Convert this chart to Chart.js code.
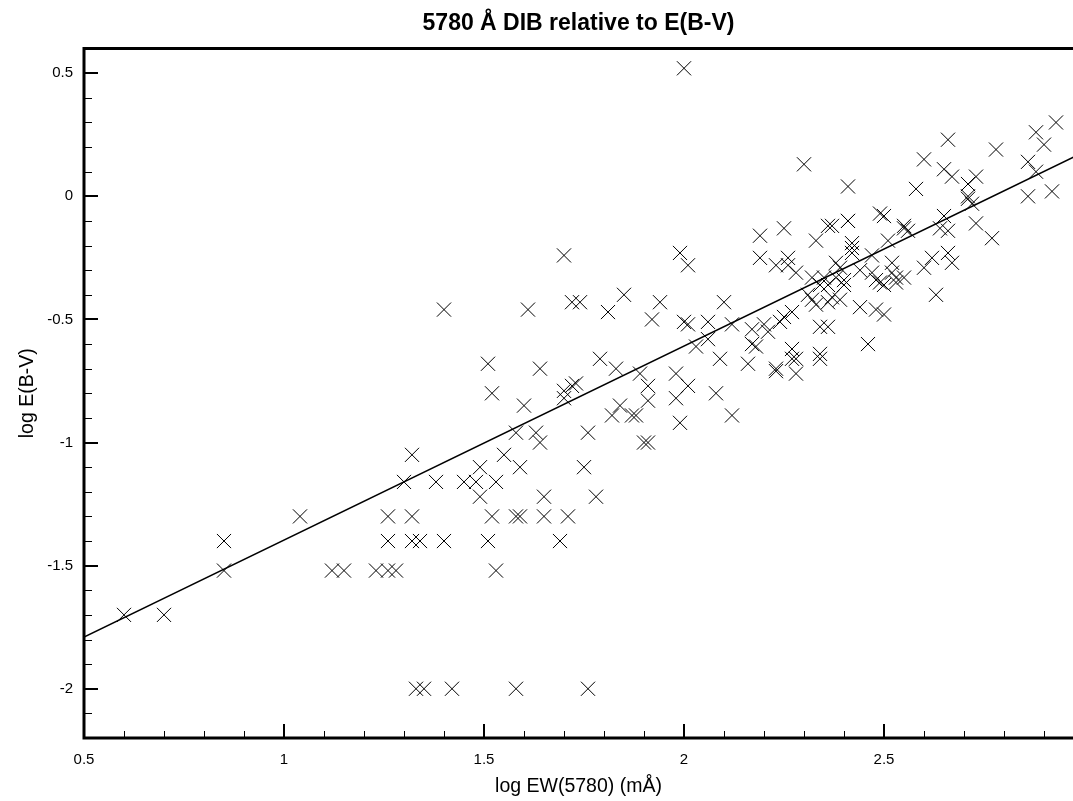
<!DOCTYPE html>
<html>
<head>
<meta charset="utf-8">
<script src="https://cdn.jsdelivr.net/npm/chart.js@4.4.1/dist/chart.umd.min.js"></script>
<style>
  body { margin: 0; background: #fff; }
  canvas { display: block; }
</style>
</head>
<body>
<canvas id="myChart" width="1073" height="801"></canvas>
<script>
// log EW(5780) and log E(B-V) for each star
let logEW = [
  0.60, 0.70, 0.85, 0.85, 1.04, 1.12, 1.15, 1.23, 1.26, 1.28,
  1.26, 1.26, 1.30, 1.32, 1.32, 1.32, 1.34, 1.38, 1.40, 1.40,
  1.45, 1.48, 1.53, 1.49, 1.49, 1.51, 1.52, 1.53, 1.51, 1.52,
  1.55, 1.58, 1.59, 1.58, 1.59, 1.60, 1.61, 1.63, 1.64, 1.64,
  1.65, 1.65, 1.69, 1.71, 1.70, 1.70, 1.70, 1.72, 1.73, 1.72,
  1.74, 1.76, 1.75, 1.78, 1.79, 1.81, 1.83, 1.82, 1.84, 1.85,
  1.87, 1.88, 1.89, 1.91, 1.91, 1.90, 1.91, 1.92, 1.94, 1.98,
  1.98, 1.99, 1.33, 1.35, 1.42, 1.58, 1.76,
  2.00, 1.99, 2.01, 2.00, 2.01, 2.01, 2.03, 2.06, 2.06, 2.08,
  2.09, 2.10, 2.12, 2.12, 2.16, 2.17, 2.17, 2.18, 2.19, 2.19,
  2.20, 2.21, 2.23, 2.23, 2.23, 2.24, 2.25, 2.25, 2.26, 2.26,
  2.27, 2.27, 2.28, 2.27, 2.28, 2.28, 2.30, 2.32, 2.33, 2.34,
  2.36, 2.37, 2.41, 2.41, 2.41, 2.38, 2.39, 2.42, 2.42, 2.42,
  2.44, 2.47, 2.47, 2.48, 2.49, 2.50, 2.49, 2.50, 2.51, 2.52,
  2.52, 2.53, 2.55, 2.53, 2.55, 2.55, 2.56, 2.58, 2.60, 2.60,
  2.62, 2.63, 2.64, 2.65, 2.66, 2.65, 2.66, 2.66, 2.67, 2.67,
  2.71, 2.71, 2.71, 2.72, 2.73, 2.73, 2.77, 2.78, 2.86, 2.86,
  2.88, 2.88, 2.90, 2.92, 2.93,
  2.44, 2.48, 2.50, 2.46, 2.36, 2.34, 2.34,
  2.35, 2.36, 2.38, 2.40, 2.40, 2.34, 2.37, 2.39, 2.36, 2.33,
  2.31, 2.32
];
let logEBV = [
  -1.70, -1.70, -1.40, -1.52, -1.30, -1.52, -1.52, -1.52, -1.52, -1.52,
  -1.30, -1.40, -1.16, -1.05, -1.30, -1.40, -1.40, -1.16, -1.40, -0.46,
  -1.16, -1.16, -1.16, -1.10, -1.22, -1.40, -1.30, -1.52, -0.68, -0.80,
  -1.05, -1.30, -1.30, -0.96, -1.10, -0.85, -0.46, -0.96, -1.00, -0.70,
  -1.22, -1.30, -1.40, -1.30, -0.24, -0.82, -0.79, -0.77, -0.76, -0.43,
  -0.43, -0.96, -1.10, -1.22, -0.66, -0.47, -0.70, -0.89, -0.85, -0.40,
  -0.89, -0.89, -0.72, -0.77, -0.83, -1.00, -1.00, -0.50, -0.43, -0.72,
  -0.82, -0.92, -2.00, -2.00, -2.00, -2.00, -2.00,
  0.52, -0.23, -0.28, -0.51, -0.52, -0.77, -0.61, -0.51, -0.58, -0.80,
  -0.66, -0.43, -0.52, -0.89, -0.68, -0.54, -0.60, -0.61, -0.16, -0.25,
  -0.52, -0.55, -0.28, -0.70, -0.71, -0.51, -0.49, -0.13, -0.25, -0.28,
  -0.47, -0.62, -0.66, -0.66, -0.72, -0.31, 0.13, -0.33, -0.18, -0.66,
  -0.12, -0.12, -0.10, -0.10, 0.04, -0.27, -0.29, -0.19, -0.21, -0.23,
  -0.30, -0.24, -0.31, -0.34, -0.35, -0.36, -0.07, -0.08, -0.18, -0.27,
  -0.31, -0.33, -0.33, -0.35, -0.12, -0.13, -0.14, 0.03, 0.15, -0.29,
  -0.25, -0.40, -0.13, -0.08, -0.14, 0.11, 0.23, -0.23, -0.27, 0.08,
  0.05, 0.00, -0.01, -0.03, 0.08, -0.11, -0.17, 0.19, 0.14, 0.00,
  0.26, 0.10, 0.21, 0.02, 0.30,
  -0.45, -0.46, -0.48, -0.60, -0.53, -0.53, -0.64,
  -0.33, -0.36, -0.33, -0.34, -0.36, -0.36, -0.41, -0.42, -0.43, -0.44,
  -0.40, -0.42
];

// least squares line drawn on the plot
let fitX = [0.5, 3.0];
let fitY = [-1.79, 0.18];

let xTicks = [0.5, 1, 1.5, 2, 2.5];
let yTicks = [-2, -1.5, -1, -0.5, 0, 0.5];

let font = "'Liberation Sans', Arial, Helvetica, sans-serif";

// frame + inward ticks like the original plot
let frameTicks = {
  id: 'frameTicks',
  afterDatasetsDraw(chart) {
    let c = chart.ctx;
    let a = chart.chartArea;
    let xs = chart.scales.x, ys = chart.scales.y;
    c.save();
    c.strokeStyle = '#000';
    c.lineCap = 'butt';

    // minor ticks
    c.lineWidth = 1;
    c.beginPath();
    for (let i = 6; i <= 29; i++) {
      let px = Math.round(xs.getPixelForValue(i / 10)) + 0.5;
      c.moveTo(px, a.bottom);
      c.lineTo(px, a.bottom - 7);
    }
    for (let i = -21; i <= 5; i++) {
      let py = Math.round(ys.getPixelForValue(i / 10)) + 0.5;
      c.moveTo(a.left, py);
      c.lineTo(a.left + 8, py);
    }
    c.stroke();

    // major ticks
    c.lineWidth = 2;
    c.beginPath();
    xTicks.forEach(v => {
      let px = Math.round(xs.getPixelForValue(v));
      c.moveTo(px, a.bottom);
      c.lineTo(px, a.bottom - 14);
    });
    yTicks.forEach(v => {
      let py = Math.round(ys.getPixelForValue(v));
      c.moveTo(a.left, py);
      c.lineTo(a.left + 14, py);
    });
    c.stroke();

    // axis lines
    c.lineWidth = 3;
    c.beginPath();
    c.moveTo(a.left, a.top);
    c.lineTo(a.right, a.top);
    c.moveTo(a.left, a.top - 1.5);
    c.lineTo(a.left, a.bottom + 1.5);
    c.moveTo(a.left, a.bottom);
    c.lineTo(a.right, a.bottom);
    c.stroke();
    c.restore();
  }
};

let noPad = s => {
  s.paddingLeft = 0;
  s.paddingRight = 0;
  s.paddingTop = 0;
  s.paddingBottom = 0;
};

let ctx = document.getElementById('myChart');
let myChart = new Chart(ctx, {
  type: 'scatter',
  data: {
    datasets: [{
      label: 'stars',
      data: logEW.map((v, i) => ({ x: v, y: logEBV[i] })),
      pointStyle: 'crossRot',
      pointRadius: 10,
      pointBorderColor: '#000',
      pointBackgroundColor: '#000',
      pointBorderWidth: 1,
      clip: 0
    }, {
      type: 'line',
      label: 'fit',
      data: fitX.map((v, i) => ({ x: v, y: fitY[i] })),
      borderColor: '#000',
      borderWidth: 1.5,
      pointRadius: 0,
      fill: false,
      clip: 0
    }]
  },
  options: {
    responsive: false,
    animation: false,
    layout: { padding: 0, autoPadding: false },
    plugins: {
      legend: { display: false },
      tooltip: { enabled: false },
      title: {
        display: true,
        text: '5780 Å DIB relative to E(B-V)',
        color: '#000',
        fullSize: false,
        font: { family: font, size: 23, weight: 'bold' },
        padding: { top: 10, bottom: 11 }
      }
    },
    scales: {
      x: {
        type: 'linear',
        min: 0.5,
        max: 2.9725,
        afterFit: s => { s.height = 63; noPad(s); },
        afterBuildTicks: s => { s.ticks = xTicks.map(v => ({ value: v })); },
        grid: { display: false, drawTicks: false },
        border: { display: false },
        ticks: {
          color: '#000',
          padding: 13,
          maxRotation: 0,
          font: { family: font, size: 15 },
          callback: v => String(v)
        },
        title: {
          display: true,
          text: 'log EW(5780) (mÅ)',
          color: '#000',
          font: { family: font, size: 19.5 },
          padding: { top: 0, bottom: 3 }
        }
      },
      y: {
        type: 'linear',
        min: -2.2,
        max: 0.6,
        afterFit: s => { s.width = 84; noPad(s); },
        afterBuildTicks: s => { s.ticks = yTicks.map(v => ({ value: v })); },
        grid: { display: false, drawTicks: false },
        border: { display: false },
        ticks: {
          color: '#000',
          padding: 11,
          font: { family: font, size: 15 },
          callback: v => String(v)
        },
        title: {
          display: true,
          text: 'log E(B-V)',
          color: '#000',
          font: { family: font, size: 19.5 },
          padding: { top: 16, bottom: 0 }
        }
      }
    }
  },
  plugins: [frameTicks]
});
</script>
</body>
</html>
